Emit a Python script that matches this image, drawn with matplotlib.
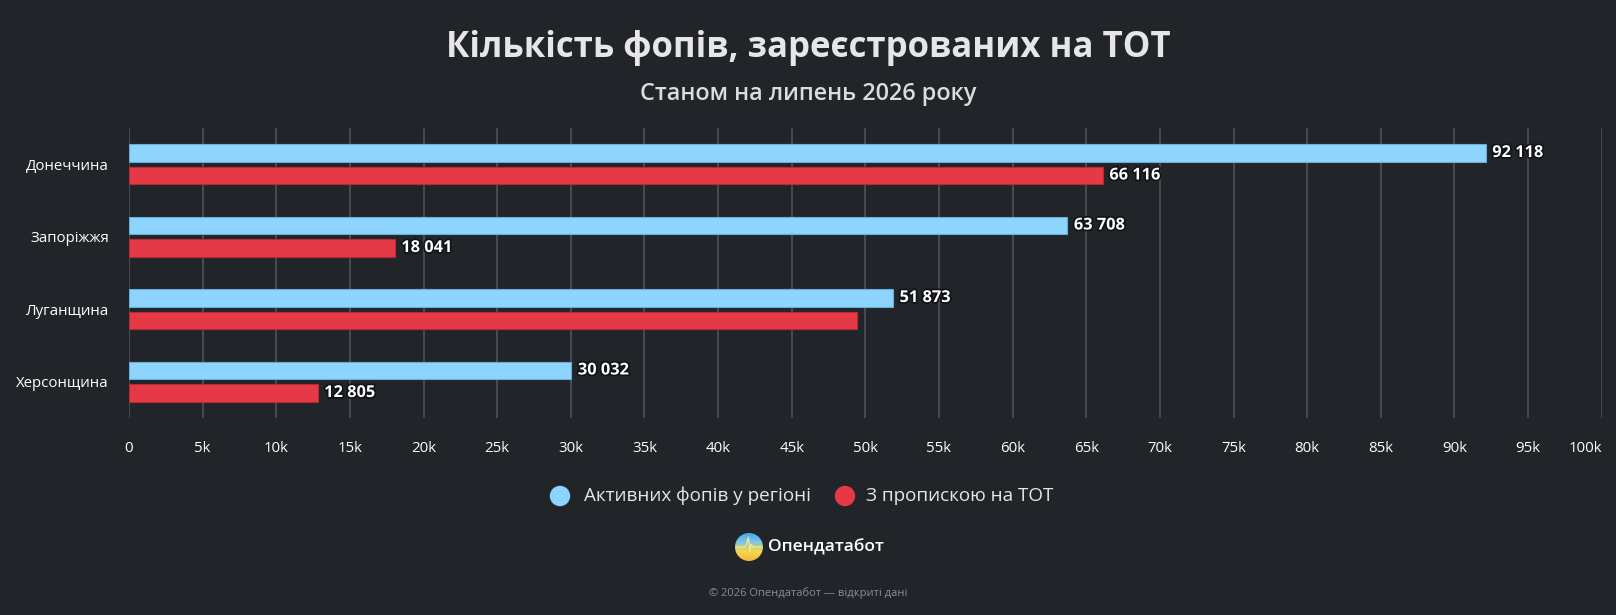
import matplotlib.pyplot as plt
import matplotlib.patheffects as pe
import numpy as np
from matplotlib.patches import Circle, Ellipse

plt.rcParams['font.family'] = ['Open Sans', 'DejaVu Sans']

regions = ['Донеччина', 'Запоріжжя', 'Луганщина', 'Херсонщина']
active = [92118, 63708, 51873, 30032]
registered = [66116, 18041, 49450, 12805]
# the red Luhansk bar has no label in the original
registered_labels = ['66 116', '18 041', None, '12 805']
active_labels = ['92 118', '63 708', '51 873', '30 032']
xticks = list(range(0, 100001, 5000))
xtick_labels = ['0'] + [f'{v // 1000}k' for v in xticks[1:]]

bg = '#212429'
blue = '#8dd5fe'
red = '#e63946'

W, H = 1616, 615
fig = plt.figure(figsize=(W / 100, H / 100), dpi=100, facecolor=bg)

left, right = 129 / W, 1601.7 / W
top, bottom = 128 / H, 418 / H
ax = fig.add_axes([left, 1 - bottom, right - left, bottom - top])
ax.set_facecolor(bg)

y = np.arange(len(regions))
h = 17.5 / 72.5
off = 11.25 / 72.5
ax.barh(y - off, active, height=h, color=blue, edgecolor='#6aaed6', linewidth=0.8, zorder=3)
ax.barh(y + off, registered, height=h, color=red, edgecolor='#b52a36', linewidth=0.8, zorder=3)

stroke = [pe.withStroke(linewidth=2.5, foreground='#111317')]
for i in range(len(regions)):
    ax.text(active[i] + 450, y[i] - off, active_labels[i], color='white', fontsize=11.8,
            fontweight='bold', va='center', ha='left', path_effects=stroke, zorder=5)
    if registered_labels[i]:
        ax.text(registered[i] + 450, y[i] + off, registered_labels[i], color='white', fontsize=11.8,
                fontweight='bold', va='center', ha='left', path_effects=stroke, zorder=5)

ax.set_xlim(0, 100000)
ax.set_ylim(len(regions) - 0.5, -0.5)
ax.set_xticks(xticks)
ax.set_xticklabels(xtick_labels, color='white', fontsize=10.8)
ax.get_xticklabels()[-1].set_ha('right')
ax.get_xticklabels()[-1].set_x(101000)
ax.set_yticks(y)
ax.set_yticklabels(regions, color='white', fontsize=10.8)
ax.tick_params(axis='x', length=0, pad=16.5)
ax.tick_params(axis='y', length=0, pad=14.5)
ax.grid(axis='x', color='#4b4e53', linewidth=1.3, zorder=0)
for s in ax.spines.values():
    s.set_visible(False)

fig.text(0.5, 1 - 48 / H, 'Кількість фопів, зареєстрованих на ТОТ', color='#e6e6e6',
         fontsize=25, fontweight='bold', ha='center', va='center')
fig.text(0.5, 1 - 94 / H, 'Станом на липень 2026 року', color='#dcdcdc',
         fontsize=16.8, fontweight='semibold', ha='center', va='center')

# legend
leg_y = 1 - 496 / H
fig.add_artist(Ellipse((560 / W, leg_y), 19 / W, 19 / H, transform=fig.transFigure, color=blue))
fig.text(584 / W, leg_y, 'Активних фопів у регіоні', color='#e6e6e6', fontsize=13.6, va='center', ha='left')
fig.add_artist(Ellipse((845 / W, leg_y), 19 / W, 19 / H, transform=fig.transFigure, color=red))
fig.text(866 / W, leg_y, 'З пропискою на ТОТ', color='#e6e6e6', fontsize=13.6, va='center', ha='left')

# logo
lax = fig.add_axes([735 / W, 1 - 561 / H, 28 / W, 28 / H])
lax.set_axis_off()
grad = np.linspace(0, 1, 100)[:, None]
cmap = plt.matplotlib.colors.LinearSegmentedColormap.from_list('l', ['#3aa8f0', '#7cc4e8', '#f7d84a', '#f2b93b'])
im = lax.imshow(grad * np.ones((1, 100)), cmap=cmap, extent=[0, 1, 0, 1], origin='upper')
clip = Circle((0.5, 0.5), 0.5, transform=lax.transData)
im.set_clip_path(clip)
px = [0.05, 0.35, 0.42, 0.48, 0.53, 0.58, 0.64, 0.95]
py = [0.5, 0.5, 0.62, 0.85, 0.35, 0.6, 0.5, 0.5]
lax.plot(px, py, color='#ffe98a', linewidth=0.8)
lax.set_xlim(0, 1)
lax.set_ylim(0, 1)
fig.text(768 / W, 1 - 547 / H, 'Опендатабот', color='white', fontsize=12.5,
         fontweight='semibold', va='center', ha='left')

fig.text(0.5, 1 - 593 / H, '© 2026 Опендатабот — відкриті дані', color='#8a8d92',
         fontsize=8, ha='center', va='center')

fig.savefig('out.png', dpi=100, facecolor=bg)
